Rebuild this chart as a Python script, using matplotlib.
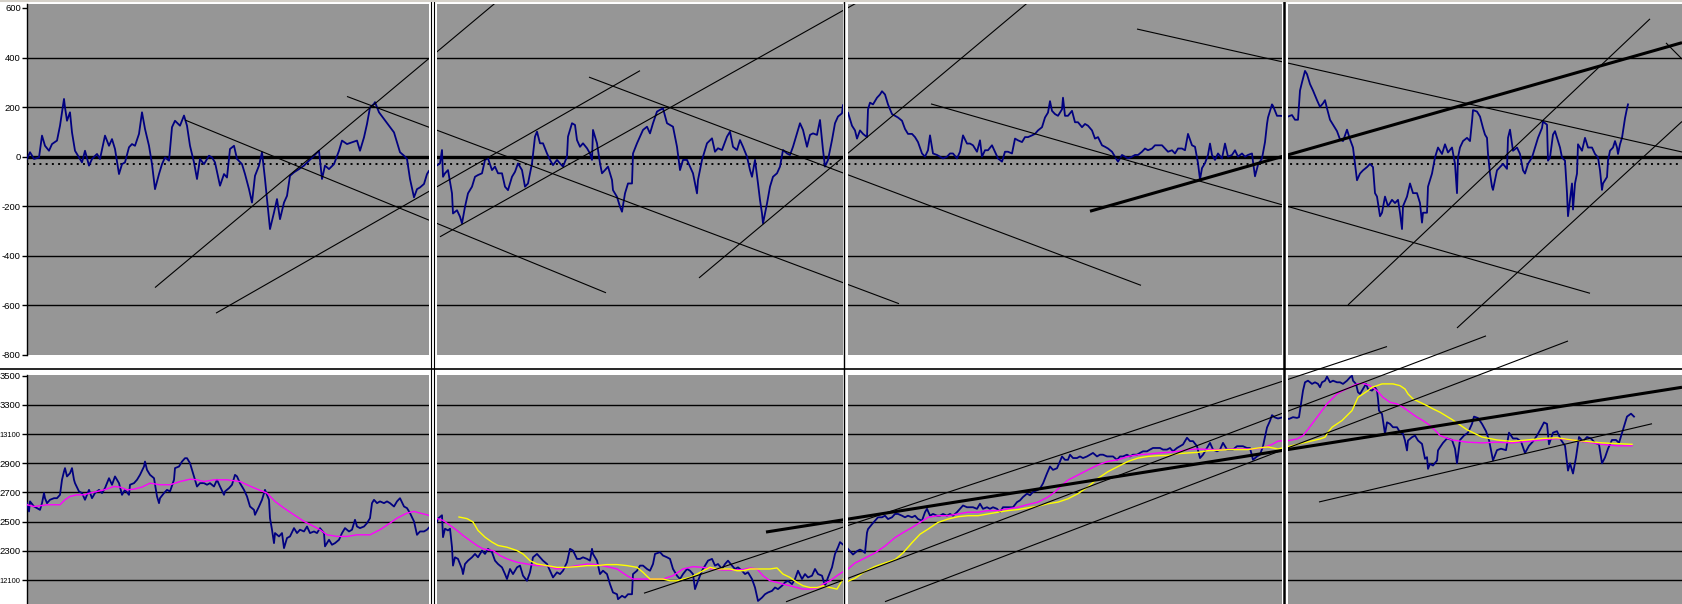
#!/usr/bin/env python3

import matplotlib
matplotlib.use("Agg")
import matplotlib.pyplot as plt
from matplotlib.lines import Line2D
from matplotlib.patches import Rectangle

# oscillator (top panel), (bar index, value)
osc = [
    (0, -9), (3, 18), (7, -9), (12, -3), (15, 85), (18, 44), (22, 24), (25, 51), (30, 65), (33, 125),
    (35, 179), (37, 233), (38, 199), (40, 145), (43, 179), (45, 98), (48, 24), (52, -3), (55, -23),
    (58, 24), (62, -36), (65, -9), (70, 11), (73, -9), (78, 85), (82, 44), (85, 71), (88, 31),
    (92, -70), (95, -30), (98, -23), (102, 38), (105, 51), (108, 44), (112, 92), (115, 179), (118, 112),
    (122, 44), (125, -30), (128, -131), (132, -70), (135, -30), (138, -3), (142, -16), (145, 119),
    (148, 145), (153, 125), (157, 166), (160, 125), (163, 44), (167, -23), (170, -90), (173, -9),
    (177, -30), (182, 4), (185, -3), (188, -23), (193, -117), (197, -70), (200, -84), (203, 31),
    (207, 44), (210, -9), (215, -30), (218, -70), (222, -131), (225, -185), (228, -77), (232, -36),
    (235, 18), (238, -90), (242, -252), (243, -292), (247, -225), (250, -171), (253, -252), (257, -185),
    (260, -158), (263, -77), (267, -63), (272, -50), (277, -36), (282, -16), (287, 4), (292, 24),
    (295, -90), (298, -36), (302, -50), (307, -30), (312, 24), (315, 65), (320, 51), (325, 58),
    (330, 65), (333, 24), (337, 78), (340, 132), (343, 199), (347, 213), (348, 220), (352, 179),
    (357, 152), (362, 125), (367, 98), (370, 58), (373, 18), (377, 4), (380, -9), (383, -90),
    (387, -164), (390, -131), (393, -124), (397, -110), (400, -70), (402, -57),
    (413, -27), (415, 27), (416, -81), (418, -67), (421, -54), (425, -148), (426, -229), (430, -216),
    (433, -242), (435, -269), (438, -202), (441, -148), (445, -121), (448, -81), (451, -74), (455, -67),
    (458, -13), (461, -7), (465, -54), (468, -40), (471, -67), (475, -67), (478, -121), (481, -135),
    (485, -81), (488, -61), (491, -27), (495, -54), (498, -121), (501, -108), (505, -27), (508, 81),
    (510, 101), (513, 54), (516, 54), (520, 13), (523, -13), (526, -34), (530, -13), (533, -27),
    (536, -40), (540, 0), (541, 81), (545, 135), (548, 128), (550, 67), (553, 40), (556, 54), (560, 34),
    (563, 13), (565, -13), (566, 108), (570, 54), (573, -27), (575, -67), (578, -54), (581, -40),
    (585, -94), (586, -135), (590, -162), (593, -202), (595, -222), (598, -148), (601, -108),
    (605, -108), (606, 13), (610, 54), (613, 81), (616, 108), (620, 121), (623, 94), (626, 135),
    (630, 182), (633, 189), (636, 195), (640, 135), (643, 128), (646, 121), (650, 40), (653, -54),
    (656, -13), (660, -13), (663, -40), (666, -67), (670, -148), (671, -94), (675, -13), (680, 54),
    (685, 74), (688, 20), (691, 34), (695, 27), (700, 81), (703, 101), (706, 40), (710, 27), (713, 67),
    (716, 40), (720, 0), (723, -54), (725, -81), (728, -13), (731, -108), (733, -175), (735, -229),
    (736, -269), (740, -189), (743, -121), (746, -81), (750, -67), (753, -40), (756, 27), (760, 13),
    (763, 7), (766, 40), (770, 94), (773, 135), (776, 108), (780, 40), (783, 88), (786, 94), (790, 88),
    (793, 148), (796, 27), (798, -40), (801, -13), (805, 67), (808, 135), (811, 162), (815, 175),
    (816, 209), (818, 168),
    (821, 178), (825, 125), (828, 106), (830, 73), (833, 106), (836, 92), (840, 79), (841, 191),
    (843, 218), (846, 211), (850, 238), (853, 251), (855, 264), (858, 251), (861, 211), (865, 172),
    (868, 165), (871, 158), (875, 145), (878, 112), (881, 92), (885, 92), (888, 79), (891, 59),
    (895, 13), (898, 0), (901, 26), (903, 86), (906, 13), (910, 7), (913, 0), (916, -7), (920, 0),
    (923, 13), (926, 13), (930, -7), (933, 20), (936, 86), (940, 53), (943, 53), (946, 46), (950, 20),
    (953, 66), (955, 0), (958, 26), (961, 26), (965, 46), (968, 20), (971, -7), (975, -20), (978, 20),
    (981, 20), (985, 13), (988, 73), (991, 66), (995, 59), (998, 79), (1001, 79), (1005, 86),
    (1008, 92), (1011, 106), (1015, 119), (1018, 158), (1021, 178), (1023, 224), (1025, 185),
    (1028, 172), (1031, 165), (1035, 191), (1036, 238), (1038, 165), (1041, 165), (1045, 185),
    (1048, 139), (1051, 139), (1055, 119), (1058, 132), (1061, 125), (1065, 106), (1068, 73),
    (1071, 79), (1075, 46), (1078, 40), (1081, 33), (1085, 20), (1088, 0), (1091, -20), (1095, 7),
    (1098, 0), (1101, -7), (1105, 0), (1108, 7), (1111, 7), (1115, 20), (1118, 33), (1121, 26),
    (1125, 33), (1128, 46), (1131, 46), (1135, 46), (1138, 33), (1141, 20), (1145, 26), (1148, 13),
    (1151, 33), (1155, 33), (1158, 26), (1161, 92), (1165, 46), (1168, 40), (1171, -26), (1173, -92),
    (1175, -46), (1178, -26), (1181, 7), (1183, 53), (1185, 7), (1188, -13), (1191, 13), (1195, -7),
    (1198, 53), (1201, 0), (1205, 7), (1208, 26), (1211, 0), (1215, 13), (1218, 0), (1221, 7),
    (1225, 13), (1226, -20), (1228, -79), (1231, -33), (1235, -7), (1238, 59), (1240, 132),
    (1241, 158), (1245, 211), (1246, 205), (1250, 165), (1253, 165),
    (1261, 162), (1265, 168), (1268, 149), (1271, 149), (1273, 267), (1275, 300), (1278, 346),
    (1280, 333), (1283, 293), (1286, 267), (1290, 228), (1293, 201), (1296, 215), (1298, 228),
    (1300, 195), (1303, 149), (1306, 129), (1310, 103), (1313, 70), (1316, 63), (1320, 109),
    (1323, 70), (1326, 37), (1328, -29), (1330, -95), (1333, -68), (1336, -55), (1340, -42),
    (1343, -29), (1346, -42), (1348, -147), (1350, -161), (1353, -240), (1355, -226), (1358, -161),
    (1361, -200), (1365, -174), (1368, -187), (1371, -174), (1373, -226), (1375, -292), (1376, -200),
    (1380, -161), (1383, -108), (1386, -147), (1390, -147), (1393, -187), (1395, -266), (1396, -226),
    (1400, -226), (1401, -121), (1405, -68), (1408, -3), (1411, 37), (1415, 11), (1418, 50),
    (1421, 17), (1425, 37), (1428, -29), (1430, -147), (1431, -3), (1433, 37), (1436, 63), (1440, 76),
    (1443, 63), (1445, 142), (1446, 188), (1450, 182), (1453, 162), (1456, 116), (1458, 89),
    (1460, 76), (1461, 11), (1463, -68), (1465, -121), (1466, -134), (1470, -55), (1473, -42),
    (1476, -29), (1480, -49), (1481, 76), (1483, 109), (1486, 24), (1490, 37), (1493, 11), (1496, -55),
    (1498, -68), (1501, -29), (1505, -3), (1508, 37), (1511, 76), (1515, 116), (1516, 142), (1520, 129),
    (1521, -16), (1523, -3), (1526, 89), (1528, 103), (1531, 63), (1533, 37), (1535, -3), (1538, -16),
    (1540, -147), (1541, -240), (1543, -174), (1545, -108), (1546, -213), (1548, -108), (1550, -68),
    (1551, 50), (1555, 24), (1558, 76), (1560, 50), (1561, 37), (1565, 37), (1568, 11), (1571, -3),
    (1573, -55), (1575, -134), (1576, -108), (1578, -95), (1580, -82), (1581, -16), (1583, 24),
    (1586, 37), (1588, 63), (1590, 37), (1591, 11), (1593, 50), (1595, 76), (1596, 103), (1598, 155),
    (1600, 195), (1601, 211),
]

# price (bottom panel)
price = [
    (0, 2627), (2, 2570), (3, 2639), (7, 2604), (10, 2593), (13, 2581), (15, 2627), (17, 2696),
    (18, 2661), (20, 2627), (23, 2650), (27, 2661), (30, 2661), (33, 2684), (35, 2787), (37, 2844),
    (38, 2867), (40, 2810), (43, 2832), (45, 2867), (47, 2787), (48, 2764), (52, 2707), (55, 2696),
    (58, 2650), (62, 2718), (65, 2661), (68, 2696), (72, 2718), (75, 2696), (78, 2730), (82, 2798),
    (85, 2753), (88, 2810), (92, 2764), (95, 2684), (98, 2718), (102, 2684), (103, 2753), (107, 2764),
    (110, 2787), (113, 2821), (117, 2878), (118, 2912), (120, 2855), (123, 2821), (127, 2798),
    (130, 2673), (132, 2627), (133, 2661), (137, 2696), (140, 2718), (143, 2707), (147, 2787),
    (148, 2867), (152, 2878), (155, 2912), (158, 2935), (160, 2935), (163, 2901), (167, 2810),
    (170, 2741), (173, 2764), (177, 2764), (180, 2753), (183, 2764), (187, 2741), (190, 2787),
    (193, 2741), (197, 2684), (198, 2707), (202, 2730), (205, 2753), (208, 2821), (210, 2810),
    (213, 2764), (217, 2718), (220, 2673), (223, 2604), (227, 2581), (228, 2547), (232, 2604),
    (235, 2650), (238, 2718), (242, 2650), (243, 2524), (245, 2445), (247, 2353), (248, 2422),
    (252, 2399), (255, 2422), (257, 2319), (260, 2388), (263, 2399), (267, 2456), (270, 2422),
    (273, 2445), (277, 2433), (280, 2467), (283, 2422), (287, 2433), (290, 2422), (293, 2456),
    (297, 2422), (298, 2331), (302, 2376), (305, 2342), (308, 2353), (312, 2376), (315, 2422),
    (318, 2456), (322, 2433), (325, 2445), (328, 2513), (330, 2467), (333, 2456), (337, 2467),
    (340, 2490), (343, 2524), (345, 2627), (347, 2650), (350, 2627), (353, 2639), (357, 2627),
    (360, 2639), (363, 2627), (367, 2604), (370, 2639), (373, 2661), (377, 2604), (380, 2593),
    (383, 2559), (387, 2502), (390, 2410), (393, 2433), (397, 2433), (400, 2445), (403, 2467),
    (405, 2479),
    (410, 2498), (411, 2521), (415, 2544), (416, 2394), (418, 2452), (421, 2440), (423, 2452),
    (425, 2325), (426, 2199), (428, 2256), (431, 2245), (435, 2176), (436, 2141), (438, 2210),
    (441, 2233), (445, 2256), (448, 2279), (451, 2256), (455, 2302), (458, 2279), (461, 2314),
    (465, 2291), (468, 2233), (471, 2210), (475, 2187), (478, 2141), (480, 2107), (483, 2176),
    (486, 2141), (490, 2187), (493, 2199), (496, 2130), (500, 2095), (503, 2153), (506, 2256),
    (510, 2279), (513, 2256), (516, 2233), (520, 2210), (523, 2164), (526, 2118), (530, 2153),
    (533, 2141), (536, 2164), (540, 2222), (543, 2314), (546, 2302), (550, 2245), (553, 2245),
    (556, 2256), (560, 2245), (563, 2233), (565, 2314), (566, 2279), (570, 2233), (573, 2141),
    (576, 2164), (580, 2141), (583, 2072), (586, 2015), (590, 2003), (591, 1969), (595, 1992),
    (598, 1980), (601, 2003), (605, 2003), (606, 2141), (610, 2164), (613, 2199), (616, 2199),
    (620, 2176), (623, 2164), (626, 2210), (628, 2279), (633, 2291), (636, 2268), (640, 2256),
    (643, 2245), (646, 2176), (650, 2130), (653, 2107), (656, 2141), (660, 2176), (663, 2164),
    (666, 2141), (668, 2038), (671, 2095), (675, 2164), (678, 2199), (681, 2233), (685, 2245),
    (688, 2199), (691, 2210), (695, 2176), (698, 2210), (701, 2233), (705, 2199), (708, 2176),
    (711, 2187), (715, 2164), (718, 2141), (721, 2153), (725, 2107), (728, 2049), (731, 1957),
    (735, 1980), (738, 2003), (741, 2015), (745, 2026), (748, 2049), (751, 2038), (755, 2061),
    (758, 2084), (761, 2095), (765, 2072), (768, 2107), (771, 2164), (775, 2107), (778, 2141),
    (781, 2118), (785, 2130), (788, 2176), (791, 2141), (795, 2130), (798, 2061), (801, 2118),
    (805, 2187), (808, 2279), (811, 2325), (813, 2360),
    (820, 2321), (823, 2298), (826, 2275), (830, 2298), (833, 2309), (836, 2298), (838, 2286),
    (840, 2425), (841, 2449), (845, 2483), (848, 2507), (851, 2530), (855, 2530), (858, 2541),
    (861, 2518), (865, 2530), (868, 2553), (871, 2553), (875, 2541), (878, 2530), (881, 2541),
    (885, 2530), (888, 2541), (891, 2518), (895, 2507), (898, 2565), (900, 2588), (903, 2541),
    (906, 2553), (910, 2541), (913, 2541), (916, 2553), (920, 2541), (923, 2553), (926, 2541),
    (930, 2565), (933, 2588), (936, 2611), (940, 2599), (943, 2599), (946, 2599), (950, 2588),
    (953, 2623), (956, 2588), (960, 2599), (963, 2588), (966, 2599), (970, 2588), (973, 2565),
    (976, 2599), (980, 2599), (983, 2599), (986, 2599), (990, 2634), (993, 2646), (996, 2669),
    (1000, 2692), (1003, 2681), (1006, 2704), (1010, 2715), (1013, 2727), (1016, 2762), (1020, 2831),
    (1023, 2878), (1026, 2855), (1030, 2866), (1033, 2913), (1035, 2947), (1038, 2924), (1041, 2924),
    (1043, 2959), (1046, 2936), (1050, 2936), (1053, 2947), (1056, 2936), (1060, 2947), (1063, 2959),
    (1066, 2971), (1070, 2947), (1073, 2959), (1076, 2959), (1080, 2947), (1083, 2947), (1086, 2947),
    (1090, 2924), (1093, 2947), (1096, 2947), (1100, 2959), (1103, 2947), (1106, 2959), (1110, 2959),
    (1113, 2971), (1116, 2982), (1120, 2982), (1123, 2994), (1126, 3005), (1130, 3005), (1133, 3005),
    (1136, 2994), (1140, 2994), (1143, 3005), (1146, 2982), (1150, 3005), (1153, 3017), (1156, 3029),
    (1160, 3075), (1163, 3052), (1166, 3052), (1170, 3017), (1173, 2936), (1176, 2959), (1180, 3005),
    (1183, 3040), (1186, 2994), (1190, 2982), (1193, 2994), (1196, 3040), (1200, 2994), (1203, 2994),
    (1206, 2994), (1210, 3017), (1213, 3017), (1216, 3017), (1220, 3005), (1223, 3005), (1226, 2924),
    (1230, 2947), (1233, 2959), (1236, 3017), (1240, 3145), (1243, 3191), (1245, 3230), (1248, 3214),
    (1251, 3207), (1255, 3214),
    (1262, 3204), (1266, 3216), (1270, 3211), (1272, 3216), (1274, 3307), (1276, 3398), (1278, 3455),
    (1281, 3466), (1285, 3444), (1288, 3455), (1291, 3444), (1293, 3421), (1295, 3455), (1298, 3466),
    (1300, 3494), (1303, 3455), (1306, 3466), (1310, 3455), (1313, 3455), (1316, 3444), (1320, 3466),
    (1323, 3489), (1325, 3500), (1326, 3466), (1329, 3444), (1331, 3387), (1333, 3375), (1336, 3409),
    (1339, 3444), (1341, 3409), (1345, 3398), (1348, 3421), (1350, 3398), (1351, 3341), (1352, 3261),
    (1355, 3238), (1357, 3147), (1358, 3102), (1360, 3181), (1363, 3170), (1366, 3147), (1370, 3147),
    (1373, 3113), (1376, 3102), (1378, 3056), (1380, 2988), (1381, 3056), (1385, 3079), (1388, 3090),
    (1391, 3056), (1395, 3033), (1396, 2999), (1398, 2931), (1400, 2942), (1401, 2862), (1403, 2896),
    (1406, 2885), (1410, 2919), (1411, 2988), (1413, 3010), (1416, 3040), (1420, 3070), (1425, 3060),
    (1428, 3000), (1430, 2900), (1433, 3060), (1437, 3090), (1441, 3110), (1445, 3170), (1447, 3220),
    (1451, 3210), (1455, 3170), (1459, 3120), (1462, 3060), (1466, 2920), (1470, 2990), (1474, 3000),
    (1479, 2990), (1482, 3110), (1486, 3070), (1490, 3070), (1494, 3050), (1498, 2970), (1502, 3020),
    (1506, 3050), (1510, 3090), (1514, 3140), (1517, 3180), (1520, 3170), (1522, 3030), (1526, 3110),
    (1530, 3120), (1534, 3060), (1538, 3020), (1541, 2850), (1543, 2900), (1546, 2830), (1549, 2940),
    (1552, 3080), (1556, 3050), (1560, 3080), (1564, 3070), (1568, 3040), (1572, 3030), (1575, 2900),
    (1578, 2940), (1581, 3000), (1585, 3060), (1589, 3060), (1592, 3040), (1596, 3130), (1600, 3220),
    (1604, 3240), (1607, 3220),
]

# fast moving average (magenta)
ma_fast = [
    (0, 2616), (7, 2604), (13, 2609), (20, 2616), (27, 2616), (33, 2616), (38, 2650), (43, 2673),
    (50, 2684), (57, 2684), (63, 2696), (70, 2707), (77, 2718), (87, 2741), (93, 2737), (100, 2718),
    (107, 2723), (115, 2737), (123, 2764), (133, 2753), (143, 2753), (153, 2775), (163, 2791),
    (170, 2787), (177, 2775), (187, 2787), (200, 2787), (213, 2775), (220, 2753), (230, 2723),
    (240, 2696), (248, 2639), (257, 2593), (267, 2547), (277, 2502), (287, 2467), (293, 2445),
    (300, 2410), (310, 2399), (320, 2399), (330, 2410), (343, 2410), (353, 2445), (363, 2490),
    (370, 2524), (380, 2559), (387, 2570), (393, 2559), (400, 2547), (405, 2536),
    (410, 2521), (416, 2509), (423, 2475), (430, 2440), (436, 2406), (443, 2371), (450, 2337),
    (456, 2314), (466, 2302), (473, 2268), (480, 2245), (490, 2222), (500, 2210), (510, 2199),
    (520, 2199), (530, 2176), (540, 2187), (550, 2199), (560, 2210), (570, 2206), (580, 2192),
    (590, 2176), (600, 2130), (606, 2107), (616, 2107), (626, 2107), (636, 2107), (646, 2130),
    (656, 2176), (666, 2192), (676, 2187), (686, 2176), (696, 2169), (706, 2169), (716, 2172),
    (723, 2183), (730, 2176), (736, 2130), (743, 2095), (750, 2084), (756, 2072), (763, 2061),
    (770, 2049), (776, 2038), (783, 2038), (790, 2045), (796, 2072), (803, 2095), (810, 2130),
    (815, 2153),
    (820, 2170), (828, 2217), (838, 2251), (848, 2286), (858, 2333), (868, 2391), (876, 2425),
    (885, 2460), (893, 2495), (901, 2530), (911, 2541), (921, 2541), (931, 2553), (941, 2565),
    (951, 2565), (961, 2576), (971, 2576), (981, 2588), (991, 2599), (1001, 2618), (1011, 2634),
    (1021, 2669), (1028, 2704), (1035, 2750), (1041, 2785), (1051, 2820), (1061, 2855), (1071, 2889),
    (1081, 2913), (1091, 2924), (1101, 2947), (1111, 2959), (1121, 2963), (1131, 2971), (1141, 2975),
    (1151, 2982), (1161, 2994), (1171, 2998), (1185, 2994), (1195, 2994), (1205, 2998), (1215, 2998),
    (1225, 2998), (1235, 3005), (1245, 3029), (1251, 3052),
    (1262, 3056), (1270, 3067), (1276, 3090), (1280, 3124), (1285, 3170), (1290, 3216), (1295, 3261),
    (1300, 3307), (1305, 3341), (1310, 3375), (1316, 3398), (1323, 3421), (1330, 3444), (1336, 3448),
    (1343, 3432), (1350, 3398), (1356, 3352), (1363, 3318), (1370, 3307), (1376, 3284), (1383, 3250),
    (1390, 3216), (1396, 3193), (1403, 3159), (1410, 3113), (1413, 3090), (1425, 3060), (1440, 3045),
    (1455, 3040), (1470, 3045), (1485, 3040), (1500, 3050), (1515, 3060), (1530, 3070), (1545, 3060),
    (1560, 3045), (1575, 3030), (1590, 3020), (1605, 3020),
]

# slow moving average (yellow)
ma_slow = [
    (432, 2532), (440, 2521), (446, 2498), (451, 2440), (458, 2394), (465, 2360), (471, 2337),
    (480, 2325), (490, 2302), (496, 2279), (503, 2233), (510, 2210), (520, 2199), (530, 2187),
    (540, 2187), (550, 2192), (560, 2199), (570, 2199), (580, 2206), (590, 2206), (600, 2199),
    (610, 2187), (616, 2153), (623, 2107), (630, 2107), (636, 2107), (643, 2095), (650, 2095),
    (656, 2107), (663, 2118), (670, 2141), (676, 2164), (683, 2187), (690, 2176), (696, 2176),
    (703, 2176), (710, 2164), (716, 2164), (723, 2176), (730, 2176), (736, 2176), (743, 2176),
    (750, 2183), (756, 2141), (763, 2118), (770, 2084), (776, 2061), (783, 2049), (790, 2049),
    (796, 2061), (803, 2049), (810, 2038), (813, 2072), (816, 2107),
    (820, 2089), (828, 2112), (838, 2159), (848, 2193), (858, 2217), (868, 2240), (876, 2286),
    (885, 2356), (893, 2414), (901, 2449), (911, 2495), (921, 2518), (931, 2534), (941, 2541),
    (951, 2541), (961, 2553), (971, 2565), (981, 2576), (991, 2583), (1001, 2595), (1011, 2606),
    (1021, 2623), (1031, 2634), (1041, 2657), (1051, 2692), (1061, 2739), (1071, 2797), (1081, 2843),
    (1091, 2878), (1101, 2913), (1111, 2936), (1121, 2947), (1131, 2952), (1141, 2954), (1151, 2966),
    (1161, 2971), (1171, 2975), (1181, 2987), (1191, 2989), (1201, 2994), (1211, 2994), (1221, 2994),
    (1231, 3005), (1241, 3012), (1251, 2998),
    (1286, 3056), (1293, 3067), (1298, 3079), (1301, 3113), (1305, 3147), (1310, 3170), (1315, 3193),
    (1320, 3227), (1325, 3261), (1328, 3307), (1331, 3352), (1336, 3375), (1341, 3398), (1345, 3421),
    (1350, 3432), (1355, 3444), (1360, 3444), (1366, 3444), (1373, 3432), (1378, 3409), (1381, 3375),
    (1386, 3341), (1393, 3318), (1400, 3295), (1406, 3273), (1413, 3250), (1425, 3200), (1440, 3130),
    (1455, 3080), (1470, 3060), (1485, 3050), (1500, 3060), (1515, 3070), (1530, 3075), (1545, 3060),
    (1560, 3050), (1575, 3040), (1590, 3035), (1605, 3030),
]

# hand drawn trend lines, (start, end)
top_lines = [
    ((128, -528), (468, 619)), ((189, -631), (613, 347)), ((158, 148), (579, -549)),
    ((320, 243), (872, -593)), ((413, -323), (840, 644)), ((562, 321), (1114, -519)),
    ((672, -489), (1000, 619)), ((904, 213), (1563, -551)), ((1110, 515), (1655, 19)),
    ((1321, -598), (1623, 556)), ((1430, -691), (1655, 142)), ((1639, 459), (1655, 394)),
]
top_thick = [((1063, -220), (1655, 460))]
bot_lines = [
    ((617, 2010), (1360, 3700)), ((759, 1951), (1459, 3773)),
    ((858, 1952), (1541, 3738)), ((1292, 2635), (1625, 3171)),
]
bot_thick = [((739, 2429), (1655, 3421))]

top_ticks = [600, 400, 200, 0, -200, -400, -600, -800]
bot_ticks = [3500, 3300, 3100, 2900, 2700, 2500, 2300, 2100]
bot_labels = ["3500", "3300", "13100", "2900", "2700", "2500", "2300", "12100"]

W, H = 1682, 604
GRAY = "#969696"


def style_axes(ax, ticks, labels, xmax):
    ax.set_facecolor(GRAY)
    for s in ("top", "right", "bottom"):
        ax.spines[s].set_visible(False)
    ax.spines["left"].set_color("black")
    ax.spines["left"].set_linewidth(1.0)
    ax.set_xlim(0, xmax)
    ax.set_xticks([])
    ax.set_yticks(ticks)
    ax.set_yticklabels(labels, family="Liberation Sans")
    ax.tick_params(axis="y", direction="out", length=3.5, width=1, pad=1.0)
    # long labels get a smaller size so they fit left of the axis
    for lab in ax.get_yticklabels():
        lab.set_fontsize(5.4 if len(lab.get_text()) > 4 else 6.8)


def draw_lines(ax, lines, lw, clip=True):
    for (x0, y0), (x1, y1) in lines:
        ax.plot([x0, x1], [y0, y1], color="black", lw=lw, solid_capstyle="butt",
                clip_on=clip, zorder=5)


def main():
    fig = plt.figure(figsize=(W / 100, H / 100), dpi=100)
    fig.patch.set_facecolor("white")

    ax_top = fig.add_axes([27 / W, 1 - 355 / H, 1655 / W, 351 / H])
    ax_bot = fig.add_axes([27 / W, 0, 1655 / W, 229 / H])

    style_axes(ax_top, top_ticks, [str(t) for t in top_ticks], 1655)
    ax_top.set_ylim(-800, 616)
    style_axes(ax_bot, bot_ticks, bot_labels, 1655)
    ax_bot.set_ylim(1936, 3505)

    for v in top_ticks[1:-1]:
        ax_top.axhline(v, color="black", lw=2.4 if v == 0 else 1.0, zorder=1)
    ax_top.axhline(-28, color="black", lw=1.4, ls=(0, (1, 2.2)), zorder=1)
    for v in bot_ticks[1:]:
        ax_bot.axhline(v, color="black", lw=1.0, zorder=1)

    ox, oy = zip(*osc)
    ax_top.plot(ox, oy, color="#000080", lw=1.3, zorder=3)

    px_, py_ = zip(*price)
    ax_bot.plot(px_, py_, color="#000080", lw=1.3, zorder=3)
    fx, fy = zip(*ma_fast)
    ax_bot.plot(fx, fy, color="#ff00ff", lw=1.0, zorder=4)
    sx, sy = zip(*ma_slow)
    ax_bot.plot(sx, sy, color="#ffff00", lw=1.0, zorder=4)

    draw_lines(ax_top, top_lines, 0.8)
    draw_lines(ax_top, top_thick, 2.2)
    draw_lines(ax_bot, bot_lines, 0.8, clip=False)
    draw_lines(ax_bot, bot_thick, 2.2)

    # stitched window separators
    for x0, x1, blacks, bw in [(429, 437, [431, 433.5], 0.8),
                               (843, 848, [844.5], 1.0),
                               (1282, 1288, [1283.8], 1.8)]:
        fig.add_artist(Rectangle((x0 / W, 0), (x1 - x0) / W, 1, transform=fig.transFigure,
                                 facecolor="white", edgecolor="none", zorder=20))
        for xb in blacks:
            fig.add_artist(Line2D([xb / W, xb / W], [0, 1], transform=fig.transFigure,
                                  color="black", lw=bw, zorder=21))
    fig.add_artist(Line2D([0, 1], [1 - 369 / H, 1 - 369 / H], transform=fig.transFigure,
                          color="black", lw=1.2, zorder=21))
    fig.add_artist(Line2D([0, 1], [1 - 1 / H, 1 - 1 / H], transform=fig.transFigure,
                          color="#d4d0c8", lw=1.5, zorder=21))

    fig.savefig("out.png", dpi=100, facecolor="white")


if __name__ == "__main__":
    main()
